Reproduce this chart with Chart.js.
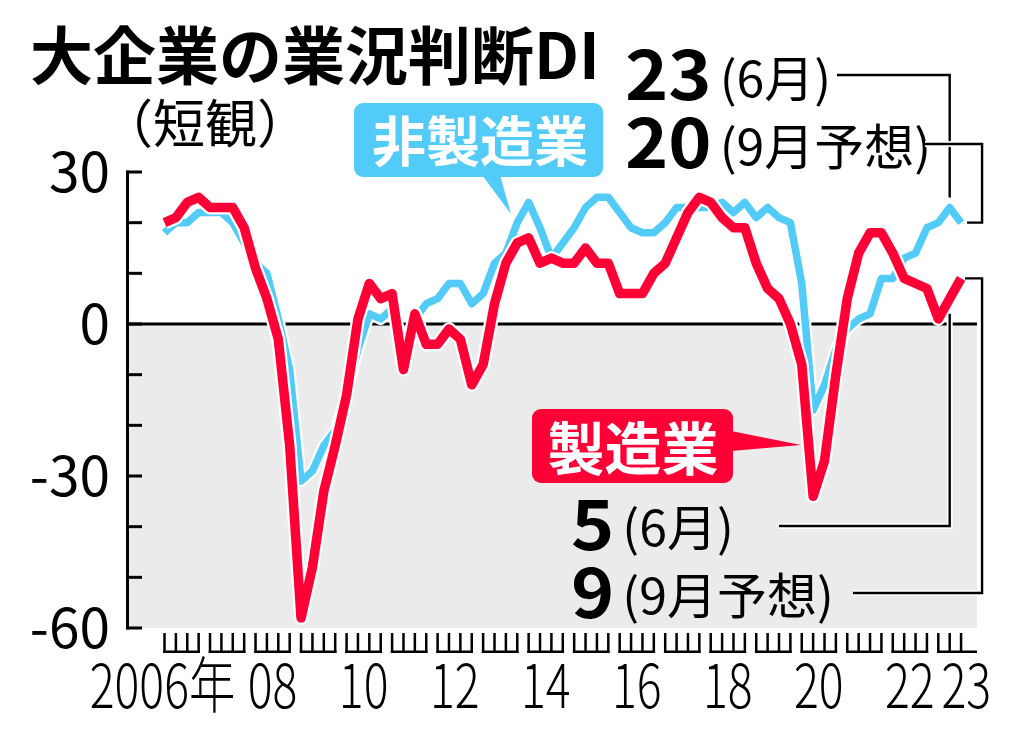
<!DOCTYPE html>
<html lang="ja">
<head>
<meta charset="utf-8">
<title>大企業の業況判断DI</title>
<script src="https://cdn.jsdelivr.net/npm/chart.js@4.4.0/dist/chart.umd.min.js"></script>
<style>
  html, body { margin: 0; padding: 0; background: #fff; }
  #wrap { position: relative; width: 1024px; height: 730px; }
</style>
</head>
<body>
<div id="wrap"><canvas id="tankanChart" width="1024" height="730"></canvas></div>
<script>
// 日銀短観・大企業の業況判断DI（四半期、2023年9月は予想）

const quarters = [
  '2006-03', '2006-06', '2006-09', '2006-12',
  '2007-03', '2007-06', '2007-09', '2007-12',
  '2008-03', '2008-06', '2008-09', '2008-12',
  '2009-03', '2009-06', '2009-09', '2009-12',
  '2010-03', '2010-06', '2010-09', '2010-12',
  '2011-03', '2011-06', '2011-09', '2011-12',
  '2012-03', '2012-06', '2012-09', '2012-12',
  '2013-03', '2013-06', '2013-09', '2013-12',
  '2014-03', '2014-06', '2014-09', '2014-12',
  '2015-03', '2015-06', '2015-09', '2015-12',
  '2016-03', '2016-06', '2016-09', '2016-12',
  '2017-03', '2017-06', '2017-09', '2017-12',
  '2018-03', '2018-06', '2018-09', '2018-12',
  '2019-03', '2019-06', '2019-09', '2019-12',
  '2020-03', '2020-06', '2020-09', '2020-12',
  '2021-03', '2021-06', '2021-09', '2021-12',
  '2022-03', '2022-06', '2022-09', '2022-12',
  '2023-03', '2023-06', '2023-09'
];

// 製造業
const manufacturing = [
  20, 21, 24, 25,
  23, 23, 23, 19,
  11, 5, -3, -24,
  -58, -48, -33, -24,
  -14, 1, 8, 5,
  6, -9, 2, -4,
  -4, -1, -3, -12,
  -8, 4, 12, 16,
  17, 12, 13, 12,
  12, 15, 12, 12,
  6, 6, 6, 10,
  12, 17, 22, 25,
  24, 21, 19, 19,
  12, 7, 5, 0,
  -8, -34, -27, -10,
  5, 14, 18, 18,
  14, 9, 8, 7,
  1, 5, 9
];

// 非製造業
const nonManufacturing = [
  18, 20, 20, 22,
  22, 22, 20, 16,
  12, 10, 1, -9,
  -31, -29, -24, -21,
  -14, -5, 2, 1,
  3, -5, 1, 4,
  5, 8, 8, 4,
  6, 12, 14, 20,
  24, 19, 13, 16,
  19, 23, 25, 25,
  22, 19, 18, 18,
  20, 23, 23, 23,
  23, 24, 22, 24,
  21, 23, 21, 20,
  8, -17, -12, -5,
  -1, 1, 2, 9,
  9, 13, 14, 19,
  20, 23, 20
];

const yTickMarks = [30, 20, 10, 0, -10, -20, -30, -40, -50, -60];
const yTickLabels = [30, 0, -30, -60];
const xLabelYears = ['2006', '2008', '2010', '2012', '2014', '2016', '2018', '2020', '2022', '2023'];
const xLabelTexts = ['2006年', '08', '10', '12', '14', '16', '18', '20', '22', '23'];

const RED = '#ff0036';
const BLUE = '#52cbf8';
const GRAY = '#ebebeb';
const FONT = '"Noto Sans CJK JP", "Noto Sans", sans-serif';

function toPoints(values) {
    return values.map((v, i) => ({ x: i, y: v }));
}

function polyline(ctx, pts, width, color) {
    ctx.beginPath();
    ctx.moveTo(pts[0][0], pts[0][1]);
    for (let i = 1; i < pts.length; i++) ctx.lineTo(pts[i][0], pts[i][1]);
    ctx.lineWidth = width;
    ctx.strokeStyle = color;
    ctx.lineJoin = 'miter';
    ctx.lineCap = 'butt';
    ctx.stroke();
}

// 白フチ付きの引き出し線
function connector(ctx, pts) {
    polyline(ctx, pts, 6, '#fff');
    polyline(ctx, pts, 2.4, '#000');
}

// 横方向に伸縮した文字
function squeezedText(ctx, text, x, y, font, align, sx) {
    ctx.save();
    ctx.translate(x, y);
    ctx.scale(sx, 1);
    ctx.font = font;
    ctx.textAlign = align;
    ctx.textBaseline = 'alphabetic';
    ctx.fillText(text, 0, 0);
    ctx.restore();
}

function roundBox(ctx, x1, y1, x2, y2, r) {
    ctx.beginPath();
    ctx.moveTo(x1 + r, y1);
    ctx.lineTo(x2 - r, y1);
    ctx.arcTo(x2, y1, x2, y1 + r, r);
    ctx.lineTo(x2, y2 - r);
    ctx.arcTo(x2, y2, x2 - r, y2, r);
    ctx.lineTo(x1 + r, y2);
    ctx.arcTo(x1, y2, x1, y2 - r, r);
    ctx.lineTo(x1, y1 + r);
    ctx.arcTo(x1, y1, x1 + r, y1, r);
    ctx.closePath();
}

// 数値＋（月）の組み合わせ
function valueLabel(ctx, num, note, x, yNum, yNote) {
    const sx = 1.08;
    ctx.fillStyle = '#000';
    ctx.font = `bold 68px ${FONT}`;
    const w = ctx.measureText(String(num)).width * sx;
    squeezedText(ctx, String(num), x, yNum, `bold 68px ${FONT}`, 'left', sx);
    squeezedText(ctx, note, x + w + 8, yNote, `49px ${FONT}`, 'left', 1.02);
}

const axisPlugin = {
    id: 'axisPlugin',
    beforeDatasetsDraw(chart) {
        const { ctx, chartArea: a, scales: { x, y } } = chart;
        const y0 = y.getPixelForValue(0);
        ctx.save();

        // マイナス領域の網掛け
        ctx.fillStyle = GRAY;
        ctx.fillRect(a.left, y0, a.right - a.left, a.bottom - y0);

        // ゼロ線
        polyline(ctx, [[a.left, y0], [a.right, y0]], 3, '#000');

        // 縦軸と目盛り
        const axisX = a.left - 1.5;
        polyline(ctx, [[axisX, y.getPixelForValue(30) - 1.5], [axisX, y.getPixelForValue(-60) + 1.5]], 3, '#000');
        yTickMarks.forEach(v => {
            const py = y.getPixelForValue(v);
            polyline(ctx, [[axisX - 1.5, py], [a.left + 13, py]], 3, '#000');
        });

        ctx.fillStyle = '#000';
        ctx.font = `55px ${FONT}`;
        ctx.textAlign = 'right';
        ctx.textBaseline = 'alphabetic';
        yTickLabels.forEach(v => {
            ctx.fillText(String(v), 110, y.getPixelForValue(v) + 20);
        });

        // 横軸の四半期目盛り（年ごとにまとめる）
        const top = a.bottom + 5;
        const bottom = a.bottom + 25;
        const groups = {};
        quarters.forEach((q, i) => {
            const yr = q.slice(0, 4);
            (groups[yr] = groups[yr] || []).push(i);
        });
        const yearKeys = Object.keys(groups);
        yearKeys.forEach((yr, k) => {
            const idx = groups[yr];
            idx.forEach(i => {
                const px = x.getPixelForValue(i);
                polyline(ctx, [[px, top], [px, bottom]], 2.5, '#000');
            });
            const x1 = x.getPixelForValue(idx[0]) - 1.25;
            const x2 = k === yearKeys.length - 1 ? a.right : x.getPixelForValue(idx[idx.length - 1]) + 1.25;
            polyline(ctx, [[x1, bottom - 1.25], [x2, bottom - 1.25]], 2.5, '#000');
        });

        // 年ラベル
        ctx.fillStyle = '#000';
        const step = x.getPixelForValue(1) - x.getPixelForValue(0);
        xLabelYears.forEach((yr, k) => {
            const i = quarters.indexOf(yr + '-03');
            let cx = x.getPixelForValue(i) + 1.5 * step;
            if (k === 0) cx = x.getPixelForValue(i) - 2;
            if (k === xLabelYears.length - 1) cx = x.getPixelForValue(i) + 28;
            squeezedText(ctx, xLabelTexts[k], cx, a.bottom + 80, `300 61px ${FONT}`, 'center', 0.76);
        });

        ctx.restore();
    }
};

const notePlugin = {
    id: 'notePlugin',
    afterDatasetsDraw(chart) {
        const { ctx, scales: { x, y } } = chart;
        ctx.save();

        // 見出し
        ctx.fillStyle = '#000';
        ctx.textAlign = 'left';
        ctx.textBaseline = 'alphabetic';
        ctx.font = `bold 63px ${FONT}`;
        ctx.fillText('大企業の業況判断DI', 30, 79);
        ctx.font = `52px ${FONT}`;
        ctx.fillText('（短観）', 101, 143);

        // 非製造業の吹き出し
        ctx.fillStyle = BLUE;
        roundBox(ctx, 354, 103, 603, 177, 9);
        ctx.fill();
        ctx.beginPath();
        ctx.moveTo(482, 175);
        ctx.lineTo(500, 175);
        ctx.lineTo(511, 214);
        ctx.closePath();
        ctx.fill();
        ctx.fillStyle = '#fff';
        ctx.textAlign = 'center';
        ctx.textBaseline = 'middle';
        ctx.font = `bold 54px ${FONT}`;
        ctx.fillText('非製造業', 480, 141);

        // 製造業の吹き出し
        ctx.fillStyle = RED;
        roundBox(ctx, 532, 409, 733, 483, 9);
        ctx.fill();
        ctx.beginPath();
        ctx.moveTo(731, 431);
        ctx.lineTo(801, 445);
        ctx.lineTo(731, 451);
        ctx.closePath();
        ctx.fill();
        ctx.fillStyle = '#fff';
        ctx.font = `bold 57px ${FONT}`;
        ctx.fillText('製造業', 633, 448);

        // 最新値の注記
        const iJun = quarters.indexOf('2023-06');
        const iSep = quarters.indexOf('2023-09');
        const xJun = x.getPixelForValue(iJun);
        const xSep = x.getPixelForValue(iSep);
        const sideX = xSep + 21;

        valueLabel(ctx, nonManufacturing[iJun], '(6月)', 625, 100, 97);
        valueLabel(ctx, nonManufacturing[iSep], '(9月予想)', 625, 168, 165);
        connector(ctx, [[837, 75], [xJun, 75], [xJun, y.getPixelForValue(nonManufacturing[iJun]) - 10]]);
        const bSep = y.getPixelForValue(nonManufacturing[iSep]);
        connector(ctx, [[925, 144], [sideX, 144], [sideX, bSep], [xSep + 6, bSep]]);

        valueLabel(ctx, manufacturing[iJun], '(6月)', 571, 550, 546);
        valueLabel(ctx, manufacturing[iSep], '(9月予想)', 571, 618, 614);
        connector(ctx, [[779, 526], [xJun, 526], [xJun, y.getPixelForValue(manufacturing[iJun]) + 15]]);
        const rSep = y.getPixelForValue(manufacturing[iSep]);
        connector(ctx, [[853, 593], [sideX, 593], [sideX, rSep], [xSep + 4, rSep]]);

        ctx.restore();
    }
};

function lineSet(label, values, color, width, order) {
    return {
        label: label,
        data: toPoints(values),
        borderColor: color,
        borderWidth: width,
        pointRadius: 0,
        tension: 0,
        borderJoinStyle: 'round',
        borderCapStyle: 'butt',
        fill: false,
        clip: false,
        order: order
    };
}

const chart = new Chart(document.getElementById('tankanChart'), {
    type: 'line',
    data: {
        datasets: [
            lineSet('製造業', manufacturing, RED, 9.5, 0),
            lineSet('製造業_縁', manufacturing, '#fff', 14, 1),
            lineSet('非製造業', nonManufacturing, BLUE, 7.5, 2),
            lineSet('非製造業_縁', nonManufacturing, '#fff', 12, 3)
        ]
    },
    options: {
        responsive: false,
        animation: false,
        events: [],
        layout: { padding: { left: 129, right: 47, top: 172, bottom: 102 } },
        scales: {
            x: { type: 'linear', min: -3.12, max: 71.4, display: false },
            y: { min: -60, max: 30, display: false }
        },
        plugins: {
            legend: { display: false },
            tooltip: { enabled: false }
        }
    },
    plugins: [axisPlugin, notePlugin]
});
</script>
</body>
</html>
